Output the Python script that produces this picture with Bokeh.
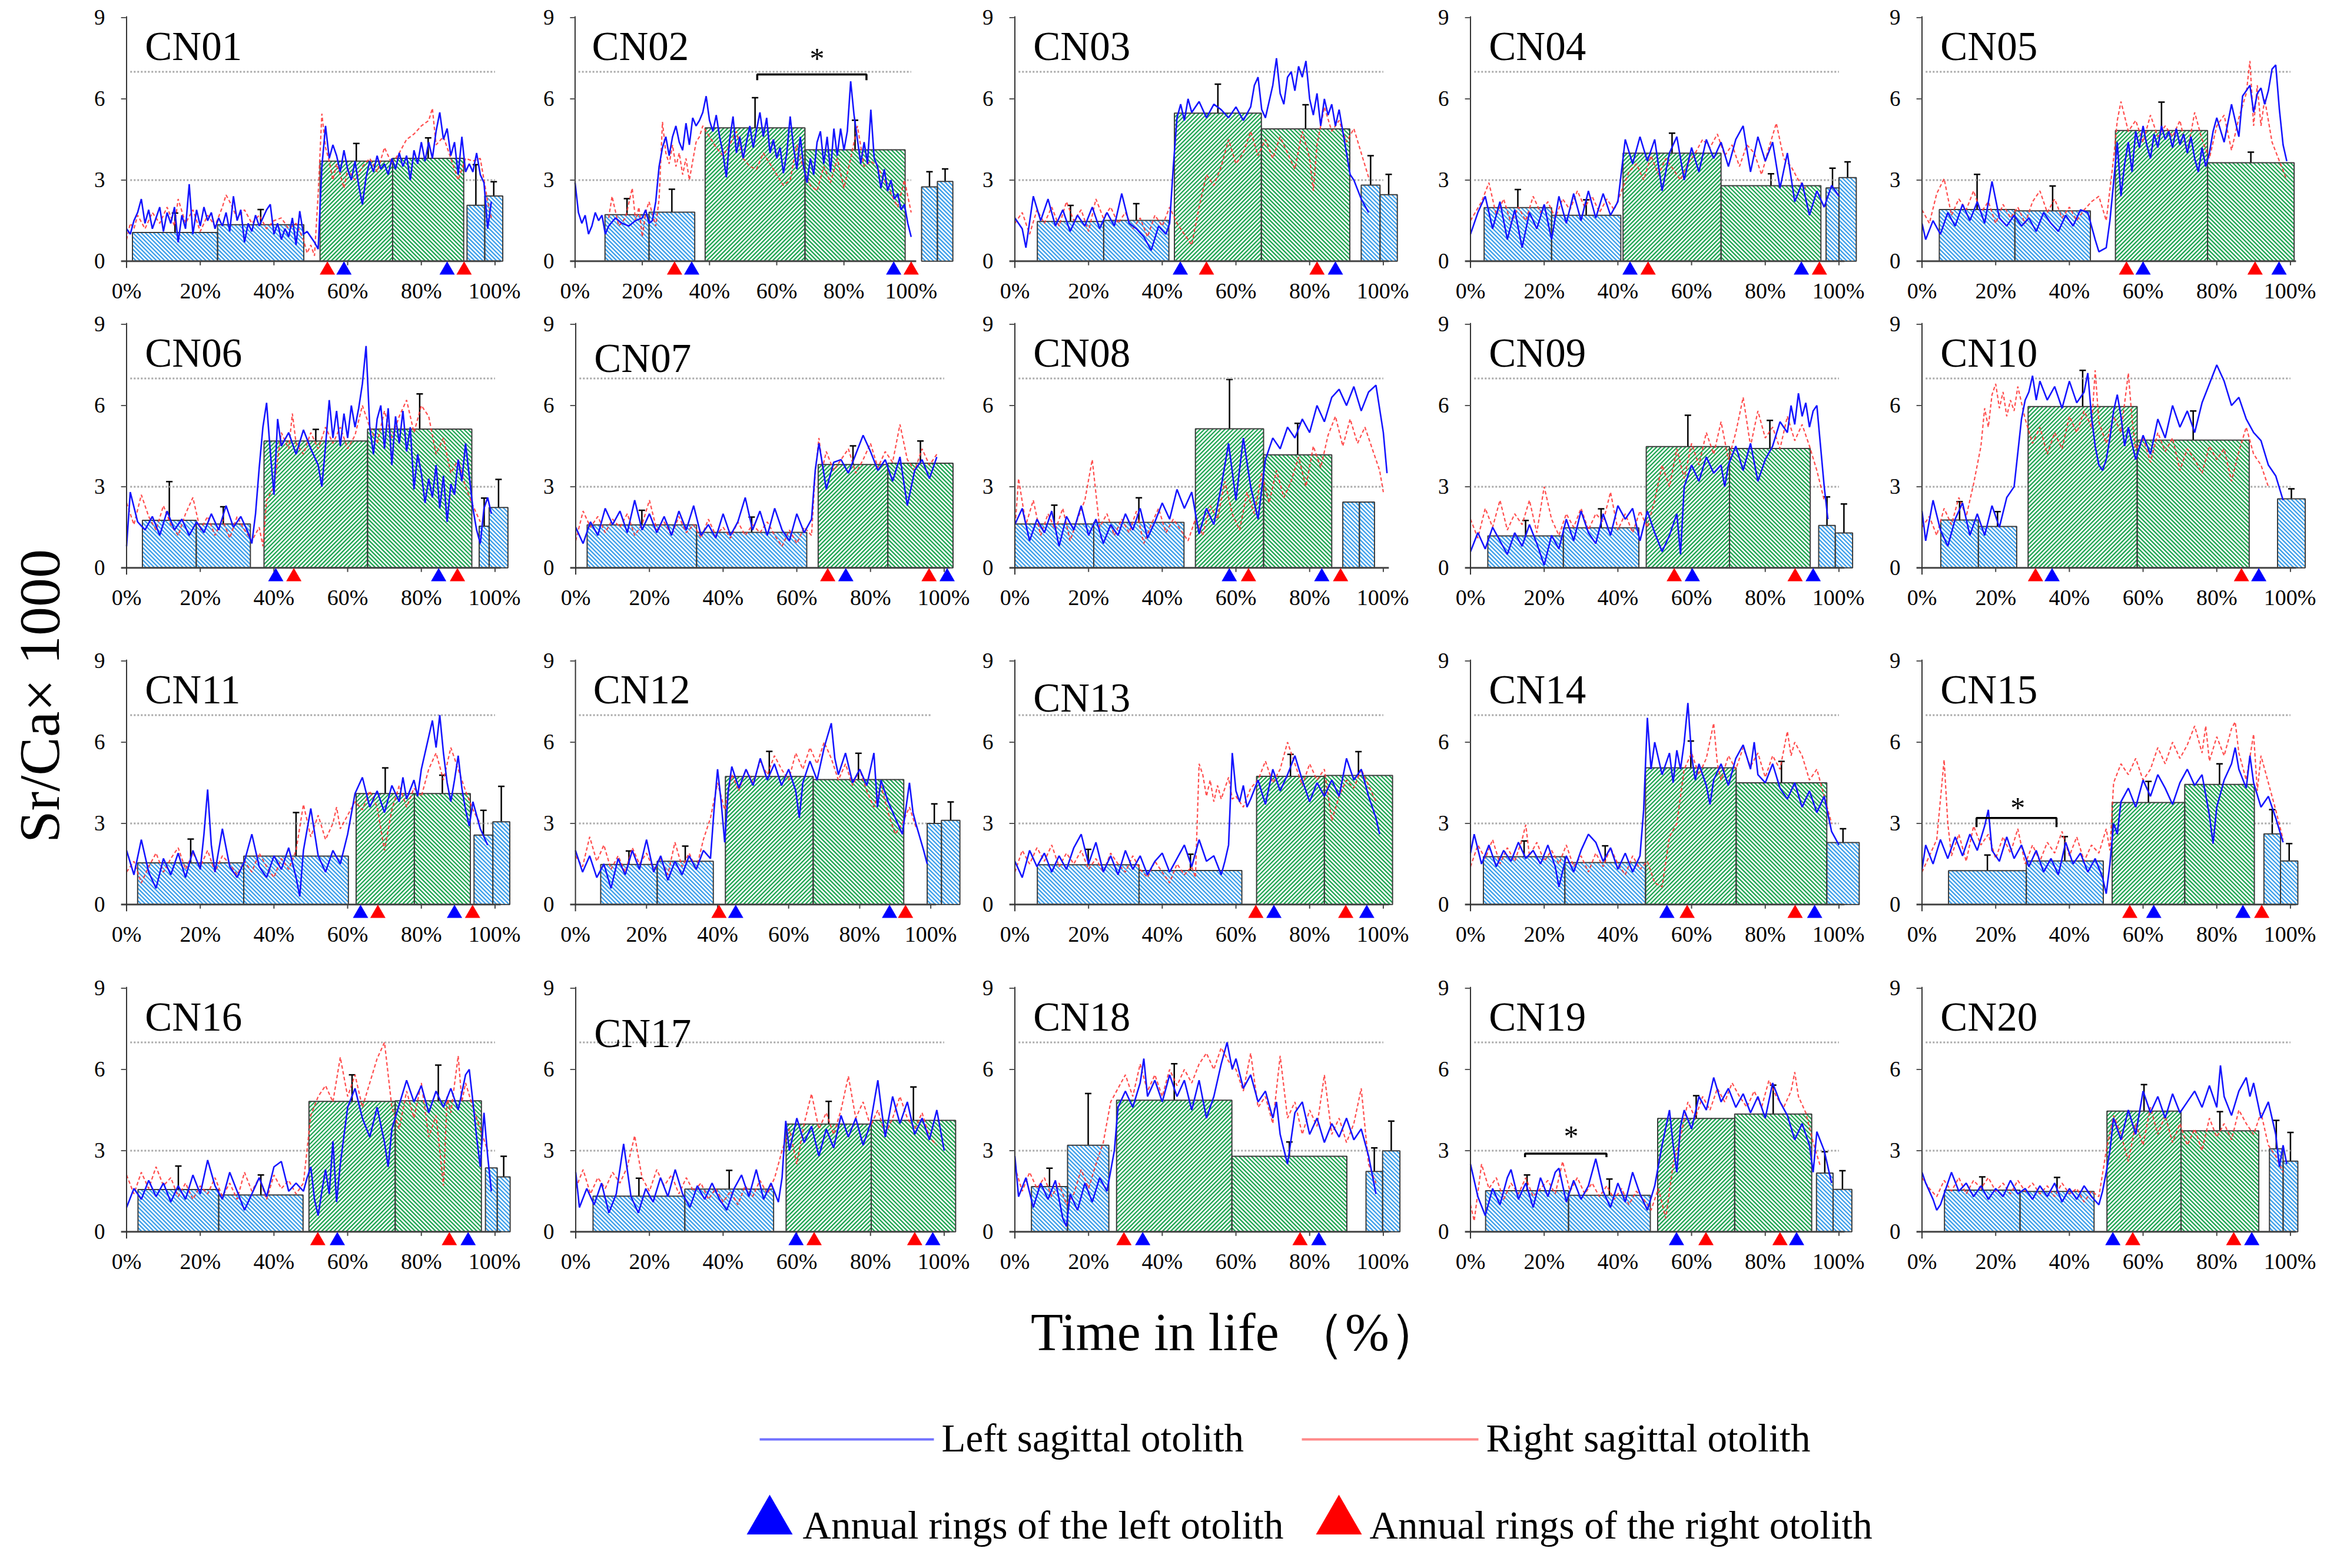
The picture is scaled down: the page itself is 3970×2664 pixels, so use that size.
import numpy as np
from bokeh.plotting import figure
from bokeh.models import ColumnDataSource, FixedTicker, Whisker, TeeHead, Spacer
from bokeh.layouts import row, column
from bokeh.core.properties import value
from bokeh.embed import file_html
from bokeh.resources import INLINE

FONT = "Liberation Serif"
PANELS = [f"CN{i:02d}" for i in range(1, 21)]
X_TICKS = [0, 20, 40, 60, 80, 100]
Y_TICKS = [0, 3, 6, 9]
REF_LEVELS = [3, 7]
REF_SPAN = [1, 100]

# bars: (left %, right %, mean, mean+SD, kind)   kind "b" = blue, "g" = green
CN01_BARS = [(1.6,24.7,1.06,1.78,"b"),(24.7,48.1,1.35,1.91,"b"),(52.5,72.2,3.70,4.35,"g"),(72.2,91.5,3.80,4.56,"g"),(92.4,97.2,2.07,3.57,"b"),(97.2,102.1,2.41,2.94,"b")]
CN02_BARS = [(8.9,22.0,1.72,2.31,"b"),(22.0,35.6,1.81,2.66,"b"),(38.7,68.4,4.93,6.04,"g"),(68.4,98.2,4.12,5.21,"g"),(103.1,107.8,2.75,3.31,"b"),(107.8,112.4,2.95,3.41,"b")]
CN03_BARS = [(6.1,24.1,1.47,2.06,"b"),(24.1,41.8,1.51,2.13,"b"),(43.3,66.9,5.47,6.54,"g"),(66.9,90.9,4.89,5.78,"g"),(94.0,99.1,2.81,3.90,"b"),(99.1,103.8,2.46,3.21,"b")]
CN04_BARS = [(3.7,22.0,1.98,2.65,"b"),(22.0,40.8,1.70,2.27,"b"),(41.4,68.0,3.99,4.73,"g"),(68.0,95.1,2.79,3.23,"g"),(96.5,100.0,2.71,3.44,"b"),(100.0,104.7,3.09,3.67,"b")]
CN05_BARS = [(4.7,25.2,1.91,3.21,"b"),(25.2,45.7,1.86,2.78,"b"),(52.5,77.5,4.83,5.88,"g"),(77.5,101.0,3.64,4.03,"g")]
CN06_BARS = [(4.3,18.9,1.76,3.19,"b"),(18.9,33.6,1.62,2.26,"b"),(37.3,65.4,4.69,5.12,"g"),(65.4,93.7,5.13,6.43,"g"),(95.7,98.4,1.54,2.58,"b"),(98.4,103.5,2.23,3.27,"b")]
CN07_BARS = [(3.1,32.8,1.59,2.13,"b"),(32.8,62.7,1.31,1.88,"b"),(65.8,84.7,3.82,4.51,"g"),(84.7,102.4,3.87,4.69,"g")]
CN08_BARS = [(0.0,21.4,1.62,2.32,"b"),(21.4,45.9,1.68,2.59,"b"),(49.0,67.5,5.14,6.96,"g"),(67.5,86.0,4.18,5.34,"g"),(89.0,93.5,2.43,2.43,"b"),(93.5,97.6,2.43,2.43,"b")]
CN09_BARS = [(4.7,25.2,1.18,1.75,"b"),(25.2,45.7,1.48,2.18,"b"),(47.7,70.3,4.48,5.64,"g"),(70.3,92.2,4.41,5.45,"g"),(94.5,99.0,1.57,2.62,"b"),(99.0,103.7,1.29,2.36,"b")]
CN10_BARS = [(5.1,15.3,1.77,2.45,"b"),(15.3,25.7,1.53,2.08,"b"),(28.8,58.4,5.96,7.30,"g"),(58.4,88.8,4.72,5.80,"g"),(96.5,104.0,2.55,2.92,"b")]
CN11_BARS = [(3.0,31.8,1.54,2.42,"b"),(31.8,60.2,1.79,3.40,"b"),(62.3,78.1,4.10,5.05,"g"),(78.1,93.3,4.10,4.78,"g"),(94.3,99.4,2.57,3.48,"b"),(99.4,104.0,3.06,4.37,"b")]
CN12_BARS = [(7.1,23.0,1.48,1.98,"b"),(23.0,38.8,1.60,2.16,"b"),(42.2,66.9,4.73,5.66,"g"),(66.9,92.4,4.62,5.59,"g"),(99.0,103.0,3.00,3.72,"b"),(103.0,108.2,3.11,3.79,"b")]
CN13_BARS = [(6.1,33.7,1.47,2.04,"b"),(33.7,61.6,1.26,1.86,"b"),(65.6,84.0,4.74,5.55,"g"),(84.0,102.5,4.77,5.65,"g")]
CN14_BARS = [(3.5,25.6,1.77,2.35,"b"),(25.6,47.5,1.55,2.17,"b"),(47.5,72.1,5.05,6.04,"g"),(72.1,96.7,4.50,5.29,"g"),(96.7,105.5,2.29,2.80,"b")]
CN15_BARS = [(7.2,28.3,1.25,1.83,"b"),(28.3,49.2,1.61,2.51,"b"),(51.6,71.3,3.77,4.55,"g"),(71.3,90.2,4.44,5.20,"g"),(92.8,97.3,2.61,3.51,"b"),(97.3,102.0,1.61,2.25,"b")]
CN16_BARS = [(3.1,25.0,1.56,2.43,"b"),(25.0,47.9,1.36,2.10,"b"),(49.5,72.9,4.82,5.80,"g"),(72.9,96.3,4.84,6.16,"g"),(97.4,100.6,2.36,2.36,"b"),(100.6,104.1,2.03,2.79,"b")]
CN17_BARS = [(4.7,29.6,1.32,1.98,"b"),(29.6,53.7,1.58,2.27,"b"),(57.1,80.2,3.98,4.82,"g"),(80.2,103.1,4.12,5.35,"g")]
CN18_BARS = [(4.5,14.3,1.67,2.35,"b"),(14.3,25.5,3.20,5.11,"b"),(27.6,58.9,4.86,6.21,"g"),(58.9,90.1,2.79,3.32,"g"),(95.3,99.8,2.23,3.10,"b"),(99.8,104.5,2.99,4.09,"b")]
CN19_BARS = [(4.1,26.6,1.52,2.10,"b"),(26.6,48.8,1.35,1.95,"b"),(50.8,71.7,4.19,5.03,"g"),(71.7,92.6,4.35,5.42,"g"),(93.9,98.4,2.17,2.96,"b"),(98.4,103.5,1.57,2.26,"b")]
CN20_BARS = [(6.1,26.6,1.54,2.03,"b"),(26.6,46.7,1.49,2.01,"b"),(50.2,70.3,4.46,5.44,"g"),(70.3,91.4,3.73,4.44,"g"),(94.3,98.0,3.07,4.12,"b"),(98.0,102.0,2.61,3.67,"b")]

# annual rings (% of life): left otolith (blue), right otolith (red)
CN01_RING_L = [59.0, 87.0]; CN01_RING_R = [54.5, 91.6]
CN02_RING_L = [34.7, 94.8]; CN02_RING_R = [29.6, 100.0]
CN03_RING_L = [44.9, 87.0]; CN03_RING_R = [52.0, 82.0]
CN04_RING_L = [43.3, 89.8]; CN04_RING_R = [48.2, 94.7]
CN05_RING_L = [60.0, 96.9]; CN05_RING_R = [55.5, 90.4]
CN06_RING_L = [40.5, 84.7]; CN06_RING_R = [45.4, 89.8]
CN07_RING_L = [73.3, 100.8]; CN07_RING_R = [68.4, 95.9]
CN08_RING_L = [58.2, 83.3]; CN08_RING_R = [63.4, 88.4]
CN09_RING_L = [60.2, 93.0]; CN09_RING_R = [55.3, 88.1]
CN10_RING_L = [35.3, 91.4]; CN10_RING_R = [30.8, 86.7]
CN11_RING_L = [63.5, 89.0]; CN11_RING_R = [68.2, 93.9]
CN12_RING_L = [45.1, 88.4]; CN12_RING_R = [40.4, 92.9]
CN13_RING_L = [70.3, 95.5]; CN13_RING_R = [65.4, 89.8]
CN14_RING_L = [53.3, 93.4]; CN14_RING_R = [58.8, 88.1]
CN15_RING_L = [62.9, 87.1]; CN15_RING_R = [56.4, 92.2]
CN16_RING_L = [57.2, 92.7]; CN16_RING_R = [51.9, 87.6]
CN17_RING_L = [59.8, 96.9]; CN17_RING_R = [64.7, 92.0]
CN18_RING_L = [34.7, 82.5]; CN18_RING_R = [29.6, 77.4]
CN19_RING_L = [55.9, 88.5]; CN19_RING_R = [63.9, 84.0]
CN20_RING_L = [51.8, 89.5]; CN20_RING_R = [57.2, 84.6]

# Sr/Ca profiles (x = % of life, y = Sr/Ca x 1000): left (blue) and right (red) otoliths
CN01_LEFT = [(0,1.2),(1,1.0),(2,1.5),(3,1.8),(4,2.3),(5,1.4),(6,1.9),(7,1.2),(8,1.6),(9,2.0),(10,1.1),(11,1.8),(12,1.4),(13,2.0),(14,0.7),(15,1.7),(16,1.2),(17,2.85),(18,1.0),(19,1.9),(20,1.3),(21,2.0),(22,1.5),(23,1.8),(24,1.2),(25,1.6),(26,1.3),(27,1.8),(28,1.1),(29,2.4),(30,1.5),(31,1.9),(32,0.7),(33,1.4),(34,1.1),(35,1.7),(36,1.3),(38,1.9),(39,2.1),(40,1.0),(41,1.4),(42,0.8),(43,1.2),(44,0.9),(45,1.6),(46,0.6),(47,1.85),(48,1.0),(49,1.1),(50,0.9),(51,0.7),(52,0.45),(53,3.5),(54,5.0),(55,3.8),(56,4.3),(57,3.9),(58,3.3),(59,4.1),(60,3.4),(61,3.0),(62,3.7),(63,2.8),(64,2.1),(65,3.1),(66,3.7),(67,3.3),(68,3.9),(69,3.4),(70,3.6),(71,3.2),(72,3.8),(73,3.4),(74,4.0),(75,3.5),(76,3.9),(77,3.0),(78,4.1),(79,3.6),(80,4.4),(81,3.7),(82,4.4),(83,3.8),(84,4.8),(85,5.5),(86,4.5),(87,4.9),(88,3.9),(89,4.4),(90,3.2),(91,4.6),(92,3.3),(93,3.6),(94,3.3),(95,4.0),(96,3.2),(97,2.9),(98,1.2),(99,2.2)]
CN01_RIGHT = [(0,0.8),(1,1.4),(2,1.2),(3,1.7),(5,1.2),(7,1.8),(9,1.4),(11,2.0),(13,1.3),(14,2.3),(16,1.4),(18,1.9),(20,1.1),(22,1.7),(24,1.3),(26,2.0),(27,2.45),(28,2.2),(30,1.6),(32,1.9),(34,1.4),(36,1.7),(38,1.2),(40,1.5),(42,1.6),(44,1.2),(46,1.4),(48,0.8),(49,0.3),(50,0.6),(51,0.2),(52,2.5),(53,5.45),(54,4.2),(55,3.7),(56,3.0),(57,3.6),(58,3.2),(59,2.7),(60,3.4),(62,3.0),(64,3.5),(66,3.8),(68,3.3),(70,4.2),(72,3.6),(74,4.0),(76,4.5),(78,4.7),(80,5.0),(82,5.2),(83,5.65),(84,4.3),(86,4.6),(88,3.8),(90,3.0),(92,3.8),(94,3.7),(96,3.8),(97,3.0),(98,2.2),(99,1.6)]
CN02_LEFT = [(0,2.9),(1,1.8),(2,1.4),(3,1.7),(4,1.0),(5,1.3),(6,1.8),(7,1.5),(8,1.7),(9,1.0),(10,1.3),(12,1.6),(14,1.4),(16,1.3),(18,1.5),(20,1.6),(21,1.9),(22,1.4),(23,1.5),(24,2.2),(25,3.5),(26,4.2),(27,4.6),(28,3.9),(29,4.6),(30,5.0),(31,4.4),(32,4.1),(33,5.1),(34,4.3),(35,5.3),(36,5.0),(37,5.2),(38,5.5),(39,6.1),(40,5.2),(41,4.8),(42,5.4),(43,4.6),(44,4.0),(45,3.1),(46,4.5),(47,5.35),(48,4.0),(49,4.6),(50,3.8),(51,4.4),(52,5.0),(53,4.2),(55,5.5),(56,4.6),(57,5.3),(58,4.0),(59,4.5),(60,3.8),(61,4.2),(62,3.25),(63,4.0),(64,5.35),(65,4.2),(66,3.4),(67,4.6),(68,3.5),(69,2.9),(70,3.8),(71,3.2),(72,4.4),(73,4.8),(74,3.6),(75,4.6),(76,3.3),(77,4.9),(78,3.9),(79,4.9),(80,4.1),(81,4.8),(82,6.65),(83,5.4),(84,4.5),(85,3.6),(86,4.4),(87,3.6),(88,5.6),(89,3.8),(90,3.5),(91,2.7),(92,3.4),(93,2.6),(94,3.0),(95,2.3),(96,2.5),(97,1.9),(98,2.1),(99,1.4),(100,0.9)]
CN02_RIGHT = [(10,1.6),(11,2.4),(13,1.3),(15,1.6),(17,2.7),(18,1.5),(19,2.0),(20,0.9),(21,1.8),(22,2.2),(24,1.3),(25,2.3),(26,5.15),(27,4.0),(28,3.6),(29,4.3),(30,3.5),(31,4.0),(32,3.2),(33,3.8),(34,3.0),(35,3.7),(36,4.4),(37,4.6),(38,5.0),(40,4.6),(42,4.2),(44,3.9),(46,4.3),(48,4.8),(50,3.8),(52,3.5),(54,3.4),(56,4.0),(58,3.6),(60,3.2),(62,2.8),(64,3.0),(66,4.3),(68,3.4),(70,2.8),(72,2.6),(74,3.5),(76,2.9),(78,3.8),(80,2.7),(82,3.8),(84,5.0),(86,3.5),(88,3.7),(90,3.5),(92,3.0),(94,2.5),(96,2.0),(98,3.0),(100,1.8)]
CN03_LEFT = [(0,1.6),(2,1.2),(3,0.5),(5,2.4),(7,1.5),(9,2.3),(11,1.3),(13,1.9),(15,1.1),(17,1.7),(19,1.3),(21,2.0),(23,1.2),(25,1.8),(27,1.3),(29,2.5),(31,1.4),(33,1.2),(35,0.9),(37,0.4),(39,1.3),(41,1.0),(42,1.4),(43,3.5),(44,5.3),(45,5.8),(46,5.2),(47,6.0),(48,5.5),(50,5.9),(52,5.3),(54,5.8),(56,5.6),(58,5.3),(60,5.7),(62,5.2),(64,5.7),(65,6.5),(66,6.8),(67,5.6),(68,5.3),(70,6.5),(71,7.5),(72,6.2),(73,5.8),(74,6.8),(75,7.0),(76,6.3),(77,7.2),(78,6.8),(79,7.4),(80,6.0),(81,5.4),(82,6.2),(83,5.0),(84,6.0),(85,5.4),(86,5.8),(87,5.0),(88,5.6),(89,4.8),(90,4.0),(91,3.2),(92,3.0),(94,2.3),(96,1.8)]
CN03_RIGHT = [(0,1.4),(2,1.8),(4,1.0),(6,1.9),(8,1.4),(10,2.0),(12,1.3),(14,2.2),(16,1.5),(18,1.9),(20,1.1),(22,2.3),(24,1.6),(26,2.0),(28,1.4),(30,1.8),(32,1.2),(34,1.6),(36,0.9),(38,1.7),(40,1.3),(42,2.0),(44,1.4),(46,1.0),(48,0.6),(50,2.0),(52,3.2),(54,2.8),(56,3.5),(58,4.5),(60,3.6),(62,4.0),(64,4.8),(66,3.9),(68,4.5),(70,3.8),(72,4.6),(74,4.0),(76,3.4),(78,4.8),(80,3.8),(81,2.6),(82,4.3),(84,5.7),(86,4.8),(88,5.2),(90,4.4),(92,4.9),(94,4.0),(96,3.1)]
CN04_LEFT = [(0,1.0),(2,1.8),(4,2.4),(6,1.2),(8,2.2),(10,0.8),(12,1.9),(14,0.5),(16,1.8),(18,1.2),(20,2.1),(22,0.8),(24,2.4),(26,1.4),(28,2.5),(30,1.5),(32,2.6),(34,1.6),(36,2.5),(38,1.7),(40,2.2),(42,4.5),(44,3.6),(46,4.6),(48,3.7),(50,4.5),(52,2.6),(54,4.0),(56,4.6),(58,3.0),(60,4.2),(62,3.3),(64,4.5),(66,3.8),(68,4.4),(70,3.5),(72,4.5),(74,5.0),(76,3.3),(78,4.6),(80,3.7),(82,4.4),(84,2.7),(86,4.0),(88,2.2),(90,2.9),(92,1.7),(94,2.6),(96,2.0),(98,2.8),(100,2.4)]
CN04_RIGHT = [(0,1.5),(3,2.2),(5,2.9),(7,1.7),(9,2.3),(11,1.4),(13,2.0),(15,1.5),(17,2.4),(19,1.8),(21,2.2),(23,1.6),(25,2.3),(27,1.9),(29,2.6),(31,2.0),(33,2.4),(35,1.8),(37,2.3),(39,1.9),(41,2.6),(43,3.3),(45,3.6),(47,3.0),(49,3.9),(51,3.2),(53,3.8),(55,3.4),(57,3.0),(59,3.6),(61,4.0),(63,4.5),(65,4.2),(67,4.7),(69,3.9),(71,4.3),(73,3.5),(75,4.3),(77,4.0),(79,3.2),(81,4.2),(83,5.1),(85,3.8),(87,3.5),(89,3.0),(91,2.7)]
CN05_LEFT = [(0,1.4),(1,0.8),(3,1.5),(5,1.0),(7,1.8),(9,1.3),(11,2.1),(13,1.5),(15,2.2),(17,1.4),(19,2.95),(21,1.6),(23,1.3),(25,1.7),(27,1.3),(29,1.6),(31,1.1),(33,1.8),(35,1.4),(37,1.1),(39,1.7),(41,1.3),(43,1.9),(45,1.8),(47,0.8),(48,0.35),(50,0.5),(51,1.5),(52,2.9),(53,4.4),(54,2.4),(55,3.6),(56,4.4),(57,3.3),(58,4.8),(59,4.2),(60,5.0),(61,4.3),(62,3.8),(63,4.7),(64,4.2),(65,5.0),(66,4.5),(67,4.8),(68,4.2),(69,4.9),(70,4.3),(71,4.7),(72,4.0),(73,4.6),(74,3.8),(75,3.3),(76,4.2),(77,3.5),(78,4.0),(79,4.8),(80,5.3),(82,4.4),(84,5.8),(86,4.6),(87,6.1),(89,6.5),(90,5.5),(91,6.2),(92,6.4),(93,5.8),(94,6.3),(95,7.1),(96,7.25),(97,5.6),(98,4.3),(99,3.7)]
CN05_RIGHT = [(0,1.9),(2,1.4),(4,2.5),(6,3.05),(8,1.7),(10,2.3),(12,1.9),(14,2.6),(16,1.8),(18,2.2),(20,1.4),(22,2.1),(24,1.6),(26,2.0),(28,1.4),(30,2.2),(32,2.6),(34,1.8),(36,2.3),(38,1.6),(40,2.0),(42,1.5),(44,1.9),(46,2.2),(48,2.4),(50,1.5),(52,3.8),(53,5.2),(54,5.9),(56,4.8),(58,5.2),(60,4.4),(62,5.4),(64,4.6),(66,5.0),(68,4.6),(70,5.2),(72,4.0),(74,5.5),(76,4.5),(78,3.8),(80,5.0),(82,5.4),(84,4.1),(86,5.3),(88,6.2),(89,7.4),(90,5.0),(91,6.5),(92,5.0),(93,6.0),(95,4.4),(97,3.7),(99,3.0)]
CN06_LEFT = [(0,0.8),(1,2.8),(3,1.7),(5,1.4),(7,1.9),(9,1.2),(11,2.1),(13,1.4),(15,1.8),(17,1.2),(19,1.7),(21,1.3),(23,2.0),(25,1.4),(27,2.3),(29,1.5),(31,1.9),(33,1.3),(34,0.9),(35,2.0),(36,3.7),(37,5.2),(38,6.1),(39,4.3),(40,2.7),(41,5.5),(42,4.5),(44,5.0),(46,4.2),(48,5.1),(50,4.4),(52,3.8),(53,3.0),(54,4.5),(55,6.2),(56,4.8),(57,5.8),(58,4.5),(59,5.7),(60,4.8),(61,6.0),(62,5.2),(63,5.9),(64,6.8),(65,8.2),(66,5.2),(67,4.2),(68,5.5),(69,6.0),(70,4.4),(71,5.9),(72,3.8),(73,5.6),(74,4.6),(75,5.8),(76,4.3),(77,5.2),(78,2.9),(79,4.2),(80,3.5),(81,2.4),(82,3.3),(83,2.6),(84,3.8),(85,2.2),(86,3.4),(87,1.7),(88,3.1),(89,2.7),(90,4.0),(91,3.2),(92,4.6),(93,3.4),(94,2.2),(95,1.4),(96,0.9),(97,2.2),(98,2.6),(99,2.0)]
CN06_RIGHT = [(0,2.4),(2,1.6),(4,2.7),(6,1.9),(8,1.4),(10,2.3),(12,1.6),(14,1.2),(16,2.0),(18,2.6),(20,1.4),(22,1.9),(24,1.2),(26,1.8),(28,1.1),(30,1.9),(32,1.4),(34,1.0),(36,1.5),(37,0.8),(38,2.5),(40,3.0),(42,5.0),(44,4.4),(45,5.7),(46,4.6),(48,4.2),(50,5.0),(52,4.4),(54,5.2),(56,4.6),(58,5.2),(60,4.4),(62,4.9),(64,6.0),(66,5.2),(68,4.6),(70,5.8),(72,4.8),(74,5.6),(76,6.2),(78,5.0),(80,6.0),(82,5.6),(84,4.2),(86,4.8),(88,3.5),(90,4.0),(92,3.0),(94,2.3),(96,1.7)]
CN07_LEFT = [(0,1.5),(2,0.9),(4,1.7),(6,1.2),(8,2.2),(10,1.6),(12,2.1),(14,1.3),(16,2.5),(18,1.4),(20,2.0),(22,1.3),(24,1.9),(26,1.2),(28,2.1),(30,1.4),(32,2.3),(34,1.2),(36,1.6),(38,1.1),(40,2.0),(42,1.2),(44,1.7),(46,2.6),(48,1.4),(50,2.1),(52,1.2),(54,2.2),(56,1.4),(58,1.0),(60,2.0),(62,1.3),(64,1.8),(65,3.6),(66,4.6),(67,3.8),(68,2.9),(70,3.9),(72,4.0),(74,3.5),(76,4.2),(78,4.9),(80,4.3),(82,3.6),(84,4.0),(86,3.2),(88,4.1),(90,2.3),(92,3.6),(94,4.0),(96,3.3),(98,4.1)]
CN07_RIGHT = [(0,1.0),(2,2.1),(4,1.5),(6,1.9),(8,1.3),(10,1.8),(12,1.5),(14,2.0),(16,1.2),(18,1.6),(20,2.5),(22,1.4),(24,1.7),(26,1.2),(28,1.9),(30,1.3),(32,1.6),(34,1.1),(36,1.8),(38,1.2),(40,1.5),(42,1.1),(44,1.7),(46,1.2),(48,1.6),(50,1.3),(52,1.7),(54,1.2),(56,0.8),(58,1.4),(60,0.9),(62,1.5),(64,1.2),(65,3.5),(66,4.8),(67,3.7),(68,4.3),(70,3.6),(72,4.0),(74,4.4),(76,3.5),(78,4.0),(80,4.6),(82,3.7),(84,4.3),(86,3.9),(88,5.3),(90,4.0),(92,3.6),(94,4.4),(96,3.8),(98,4.2)]
CN08_LEFT = [(0,1.6),(2,2.2),(4,1.0),(6,1.8),(8,1.3),(10,2.1),(12,0.8),(14,1.9),(16,1.4),(18,2.3),(20,1.2),(22,1.8),(24,0.9),(26,1.6),(28,1.2),(30,2.0),(32,1.4),(34,2.2),(36,1.1),(38,1.7),(40,2.4),(42,1.8),(44,2.9),(46,2.2),(48,2.8),(50,1.25),(52,2.2),(54,1.6),(56,3.0),(58,4.6),(60,2.5),(62,4.8),(64,3.0),(66,1.8),(68,4.0),(70,4.8),(72,4.4),(74,5.2),(76,4.8),(78,5.5),(80,5.0),(82,6.0),(84,5.4),(86,6.3),(88,6.6),(90,6.0),(92,6.7),(94,5.8),(96,6.5),(98,6.75),(100,5.0),(101,3.5)]
CN08_RIGHT = [(0,1.4),(1,3.3),(3,1.6),(5,2.5),(7,1.2),(9,2.0),(11,1.4),(13,2.2),(15,1.0),(17,1.8),(19,2.5),(21,4.0),(23,1.5),(25,2.0),(27,1.2),(29,1.8),(31,1.3),(33,2.1),(35,0.9),(37,1.6),(39,2.2),(41,1.3),(43,1.8),(45,1.4),(47,1.0),(49,1.8),(51,1.2),(53,2.3),(55,1.8),(57,3.2),(59,2.0),(61,1.4),(63,2.8),(65,2.0),(67,3.5),(69,2.4),(71,3.6),(73,2.6),(75,3.2),(77,4.1),(79,3.0),(81,4.5),(83,3.7),(85,4.9),(87,5.6),(89,4.5),(91,5.5),(93,4.6),(95,5.2),(97,4.4),(99,3.6),(100,2.8)]
CN09_LEFT = [(0,0.6),(2,1.3),(4,0.7),(6,1.5),(8,1.0),(10,0.5),(12,1.3),(14,0.8),(16,1.6),(18,0.9),(20,0.1),(22,1.2),(24,0.7),(26,1.8),(28,1.0),(30,2.1),(32,1.3),(34,0.9),(36,2.0),(38,1.2),(40,2.3),(42,1.8),(44,2.2),(46,1.0),(48,2.1),(50,1.3),(52,0.6),(54,1.2),(56,2.0),(57,0.5),(58,3.0),(60,3.8),(62,3.2),(64,4.1),(66,3.5),(68,3.8),(69,3.0),(70,3.8),(72,4.5),(74,3.6),(76,4.6),(78,3.2),(80,4.0),(82,4.5),(84,5.4),(86,5.0),(87,6.0),(88,5.3),(89,6.45),(90,5.6),(91,6.1),(92,5.2),(93,5.8),(94,6.0),(95,4.5),(96,3.0),(97,1.8)]
CN09_RIGHT = [(0,1.8),(2,1.1),(4,2.2),(6,1.5),(8,2.5),(10,1.4),(12,2.0),(14,1.6),(16,2.5),(18,1.3),(20,3.0),(22,1.8),(24,1.2),(26,2.0),(28,1.5),(30,2.2),(32,1.4),(34,2.0),(36,1.7),(38,2.8),(40,1.4),(42,2.0),(44,1.3),(46,2.1),(48,1.5),(50,2.5),(52,3.8),(54,3.0),(56,4.4),(58,3.3),(60,4.6),(62,3.8),(64,5.0),(66,4.2),(68,5.4),(70,4.0),(72,5.0),(74,6.3),(76,4.5),(78,5.8),(80,4.8),(82,5.2),(84,4.4),(86,5.6),(88,4.7),(90,5.3),(92,4.5),(94,3.6),(96,2.5)]
CN10_LEFT = [(0,2.1),(1,1.0),(3,2.5),(5,1.4),(7,0.8),(9,1.8),(11,2.4),(13,1.2),(15,2.0),(17,1.2),(19,2.3),(21,1.5),(23,2.6),(25,3.0),(27,5.5),(28,6.2),(29,6.5),(30,7.1),(31,6.2),(32,6.9),(34,6.2),(36,6.7),(38,5.9),(40,6.9),(42,6.1),(44,6.5),(45,7.2),(46,5.6),(47,4.5),(48,3.8),(49,3.6),(50,4.0),(51,4.8),(52,5.8),(53,6.4),(54,5.6),(55,4.5),(56,5.2),(58,4.0),(60,4.9),(62,4.2),(64,5.5),(66,4.8),(68,6.0),(70,5.2),(72,5.8),(74,5.0),(76,6.1),(78,6.8),(80,7.5),(82,6.9),(84,6.0),(86,6.3),(88,5.5),(90,5.0),(92,4.7),(94,3.8),(96,3.4),(98,2.5)]
CN10_RIGHT = [(0,1.5),(2,1.9),(4,1.2),(6,2.2),(8,1.6),(10,2.6),(12,1.9),(14,3.1),(16,4.5),(17,5.9),(18,5.2),(19,6.4),(20,6.8),(21,5.9),(22,6.5),(23,5.6),(24,6.2),(25,5.8),(26,6.7),(28,5.5),(30,4.6),(32,5.2),(34,4.2),(36,5.0),(38,4.4),(40,5.6),(42,5.0),(44,5.8),(46,5.2),(47,7.3),(48,5.4),(50,4.6),(52,5.6),(54,5.0),(56,7.2),(57,5.5),(58,4.4),(60,4.8),(62,3.9),(64,5.0),(66,4.3),(68,4.8),(70,3.6),(72,4.4),(74,4.0),(76,3.5),(78,4.5),(80,4.0),(82,4.4),(84,3.2),(86,4.3),(88,5.2),(90,4.2),(92,3.8),(94,3.0)]
CN11_LEFT = [(0,2.0),(2,1.1),(4,2.4),(6,1.2),(8,0.6),(10,1.7),(12,1.1),(14,1.9),(16,1.0),(18,2.0),(20,1.3),(21,2.6),(22,4.25),(23,2.2),(24,1.2),(26,2.8),(28,1.4),(30,1.0),(32,1.6),(34,2.6),(36,1.4),(38,1.0),(40,1.8),(42,1.3),(44,2.1),(46,1.0),(47,0.3),(48,2.0),(50,3.55),(52,1.8),(54,1.2),(56,2.0),(58,1.5),(60,2.6),(62,4.1),(64,4.7),(66,3.6),(68,4.2),(70,3.4),(72,4.4),(74,3.8),(75,4.7),(76,3.9),(78,4.6),(79,4.0),(80,5.0),(82,6.2),(83,6.8),(84,5.8),(85,7.0),(86,5.6),(87,4.5),(88,3.8),(89,4.6),(90,5.5),(91,4.3),(92,3.5),(93,2.9),(94,3.8),(96,2.8),(98,2.2)]
CN11_RIGHT = [(0,1.2),(2,1.6),(4,0.8),(6,1.4),(8,1.9),(10,1.2),(12,1.7),(14,2.1),(16,1.3),(18,1.9),(20,1.4),(22,2.0),(24,1.2),(26,1.8),(28,1.5),(30,1.1),(32,1.6),(34,1.2),(36,1.9),(38,1.4),(40,1.0),(42,1.7),(44,1.3),(46,2.0),(48,3.7),(50,2.5),(52,3.3),(54,2.4),(56,3.0),(57,3.6),(58,2.8),(60,3.3),(62,3.8),(64,3.5),(66,4.2),(68,3.6),(70,2.0),(72,3.5),(74,4.4),(76,3.6),(78,4.3),(80,4.0),(82,5.0),(84,5.6),(86,4.6),(88,5.8),(90,5.0),(92,4.2),(94,3.5),(96,3.0)]
CN12_LEFT = [(0,2.0),(2,1.2),(4,1.8),(6,1.0),(8,1.5),(10,0.6),(12,1.7),(14,1.1),(16,2.0),(18,1.3),(20,2.4),(22,1.2),(24,1.8),(26,0.9),(28,1.6),(30,1.1),(32,1.8),(34,1.3),(36,2.0),(38,1.7),(39,3.5),(40,5.0),(41,3.8),(42,2.3),(43,4.2),(44,5.1),(46,4.3),(48,5.0),(50,4.4),(52,5.4),(54,4.6),(56,5.2),(58,4.4),(60,5.0),(62,4.2),(63,3.2),(64,4.5),(66,5.3),(68,4.6),(70,5.8),(72,6.7),(73,5.4),(74,4.8),(76,5.6),(78,4.5),(80,5.0),(82,4.4),(84,5.6),(85,3.6),(86,4.6),(88,3.8),(90,3.2),(92,2.6),(94,4.5),(95,3.4),(96,2.9),(98,2.0),(99,1.5)]
CN12_RIGHT = [(0,1.8),(2,1.4),(4,2.5),(6,1.6),(8,2.2),(10,1.3),(12,1.8),(14,1.2),(16,2.1),(18,1.5),(20,1.9),(22,1.3),(24,1.7),(26,1.1),(28,2.3),(30,1.4),(32,1.9),(34,1.3),(36,2.4),(38,3.2),(40,4.5),(42,3.5),(44,4.8),(46,4.2),(48,5.0),(50,4.5),(52,5.3),(54,4.8),(56,5.5),(58,5.0),(60,4.6),(62,5.6),(64,5.0),(66,5.8),(68,5.2),(70,6.0),(72,5.4),(74,4.6),(76,5.2),(78,4.4),(80,5.0),(82,4.2),(84,3.6),(86,4.4),(88,3.4),(90,2.6),(92,3.0),(94,3.6),(96,2.8)]
CN13_LEFT = [(0,1.6),(2,1.0),(4,2.0),(6,1.4),(8,1.9),(10,1.2),(12,1.8),(14,1.3),(16,2.1),(18,2.6),(20,1.5),(22,2.3),(24,1.2),(26,1.8),(28,1.1),(30,2.0),(32,1.3),(34,1.8),(36,1.1),(38,1.6),(40,1.9),(42,1.2),(44,1.7),(46,2.2),(48,1.4),(50,2.4),(52,1.6),(54,1.8),(56,1.1),(57,1.6),(58,2.2),(59,5.6),(60,4.2),(61,3.8),(62,4.4),(63,3.6),(64,3.9),(66,4.6),(68,3.7),(70,5.0),(72,4.2),(74,4.8),(76,5.5),(78,4.6),(80,3.8),(82,4.5),(84,4.0),(86,4.6),(88,4.0),(90,5.4),(92,4.6),(94,5.0),(96,4.0),(98,3.2),(99,2.6)]
CN13_RIGHT = [(0,1.2),(2,2.0),(4,1.5),(6,2.1),(8,1.6),(10,2.2),(12,1.4),(14,1.9),(16,1.5),(18,2.0),(20,1.3),(22,1.7),(24,1.2),(26,1.9),(28,1.5),(30,1.2),(32,1.8),(34,1.3),(36,1.0),(38,1.6),(40,1.2),(42,0.8),(44,1.5),(46,1.1),(48,1.4),(49,1.0),(50,5.2),(51,4.8),(52,4.0),(53,4.6),(54,3.8),(55,4.4),(56,3.9),(57,4.3),(58,4.7),(59,3.9),(60,4.0),(62,3.6),(64,4.3),(66,4.6),(68,5.3),(70,4.5),(72,5.0),(74,6.0),(76,5.2),(78,4.4),(80,5.2),(82,4.6),(84,5.0),(86,3.1),(88,4.0),(90,4.6),(92,4.3),(94,5.0),(96,4.4),(98,3.8)]
CN14_LEFT = [(0,1.9),(1,2.6),(3,1.5),(5,2.2),(7,1.4),(9,2.0),(11,1.6),(13,2.3),(15,1.7),(17,2.0),(19,1.5),(21,2.2),(23,1.4),(24,0.65),(26,1.8),(28,1.2),(30,2.0),(32,2.6),(34,2.3),(36,1.6),(38,2.1),(40,1.3),(42,1.9),(44,1.2),(46,1.8),(47,3.5),(48,6.9),(49,5.0),(50,6.0),(51,5.4),(52,4.8),(54,5.6),(55,4.5),(56,5.7),(57,5.0),(58,6.0),(59,7.45),(60,5.5),(61,4.6),(62,5.2),(64,4.4),(65,3.7),(66,4.6),(68,5.2),(70,4.4),(72,5.4),(74,5.9),(76,5.0),(77,6.0),(78,4.8),(80,4.5),(82,5.2),(84,4.3),(86,3.9),(88,4.5),(90,3.6),(92,4.2),(94,3.4),(96,4.0),(98,2.7),(100,2.2)]
CN14_RIGHT = [(0,1.4),(2,2.2),(4,1.7),(6,2.4),(8,1.5),(10,2.1),(12,1.6),(14,2.4),(15,2.95),(16,1.8),(18,2.3),(20,1.6),(22,2.0),(24,1.5),(26,2.2),(28,1.4),(30,1.8),(32,1.2),(34,1.9),(36,1.4),(38,2.1),(40,1.5),(42,1.1),(44,1.8),(46,1.3),(48,1.6),(50,0.8),(52,0.65),(54,2.5),(56,3.0),(58,5.0),(60,5.6),(62,4.8),(64,5.4),(66,6.7),(67,5.2),(68,4.6),(70,5.5),(72,5.0),(74,5.8),(76,5.1),(78,5.6),(80,4.7),(82,5.5),(84,5.0),(86,6.4),(87,5.5),(88,6.0),(90,5.5),(92,4.6),(94,5.0),(96,4.0),(98,3.0)]
CN15_LEFT = [(0,1.3),(1,2.2),(3,1.5),(5,2.4),(7,1.7),(9,2.5),(11,1.8),(13,2.6),(15,2.0),(17,2.9),(18,3.5),(19,2.0),(21,1.6),(23,2.5),(25,1.7),(27,2.2),(29,1.4),(31,2.0),(33,1.2),(35,1.7),(37,1.1),(39,2.3),(41,1.5),(43,1.9),(45,1.2),(47,1.7),(49,1.0),(50,0.4),(51,1.5),(52,3.0),(53,2.6),(54,3.8),(56,4.3),(58,3.6),(60,4.6),(62,4.0),(64,4.8),(66,4.3),(68,3.7),(70,4.5),(72,5.0),(74,4.4),(76,4.8),(78,3.3),(79,2.25),(80,3.6),(82,4.6),(84,5.2),(85,5.8),(86,5.0),(88,4.3),(89,5.5),(90,4.5),(92,3.6),(94,4.0),(96,3.2),(98,2.3)]
CN15_RIGHT = [(0,1.2),(2,1.8),(4,2.4),(6,5.35),(7,3.0),(8,1.8),(10,2.6),(12,1.6),(14,2.9),(16,2.2),(18,2.6),(20,1.7),(22,2.5),(24,1.9),(26,2.8),(28,1.5),(30,2.2),(32,1.6),(34,2.3),(36,1.9),(38,2.7),(40,1.8),(42,2.5),(44,1.6),(46,2.2),(48,1.9),(50,2.8),(51,2.0),(52,4.5),(54,5.2),(56,4.8),(58,5.4),(60,4.6),(62,5.0),(64,5.8),(66,5.2),(68,6.0),(70,5.4),(72,5.9),(74,6.6),(76,5.6),(77,6.6),(78,5.3),(80,6.2),(82,5.5),(84,6.5),(85,6.75),(86,5.6),(88,4.6),(90,6.3),(91,4.2),(92,5.5),(94,4.5),(96,3.5),(98,2.4)]
CN16_LEFT = [(0,0.9),(2,1.6),(4,1.2),(6,1.9),(8,1.3),(10,1.8),(12,1.1),(14,1.7),(16,1.2),(18,2.1),(20,1.4),(22,2.65),(24,1.7),(26,1.2),(28,2.2),(30,1.5),(32,0.8),(34,1.4),(36,2.0),(38,1.3),(40,2.4),(42,2.6),(44,1.5),(46,1.8),(48,1.5),(49,2.0),(50,2.4),(51,1.2),(52,0.6),(53,1.5),(54,2.3),(55,1.4),(56,3.35),(57,1.1),(58,2.5),(60,4.6),(62,5.3),(64,4.2),(66,3.5),(68,4.6),(70,3.3),(71,2.4),(72,3.8),(74,4.7),(76,5.6),(78,4.8),(80,5.4),(82,4.4),(84,5.2),(86,4.6),(88,5.3),(90,4.5),(92,5.8),(93,6.0),(94,4.8),(95,3.5),(96,2.4),(97,4.4),(98,2.8),(99,1.5)]
CN16_RIGHT = [(0,2.1),(2,1.4),(4,2.2),(6,1.6),(8,2.4),(10,1.7),(12,2.0),(14,1.3),(16,1.8),(18,1.2),(20,1.7),(22,1.4),(24,2.0),(26,1.3),(28,1.8),(30,1.2),(32,2.2),(34,1.5),(36,2.0),(38,1.2),(40,2.1),(42,1.6),(44,1.9),(46,1.4),(48,1.8),(50,4.3),(52,5.0),(54,5.4),(56,4.8),(58,6.45),(60,5.0),(62,5.8),(64,4.6),(66,5.5),(68,6.4),(70,7.0),(71,5.8),(72,4.6),(74,3.8),(76,5.2),(78,4.2),(80,5.5),(82,3.5),(84,4.3),(86,1.7),(87,5.0),(88,4.4),(90,6.5),(91,4.8),(92,5.5),(94,4.6),(96,3.8),(98,3.0)]
CN17_LEFT = [(0,2.2),(1,0.9),(3,1.6),(5,1.0),(7,1.8),(9,0.7),(11,1.4),(13,3.25),(15,1.3),(17,0.7),(19,1.6),(21,1.1),(23,2.0),(25,1.3),(27,2.3),(29,1.4),(31,0.9),(33,1.7),(35,1.2),(37,1.8),(39,1.2),(41,0.8),(43,1.6),(45,2.1),(47,1.3),(49,2.3),(51,1.2),(53,1.8),(55,1.1),(56,2.0),(57,4.1),(58,3.0),(60,4.2),(62,3.3),(64,3.9),(66,2.8),(68,3.8),(70,3.1),(72,4.3),(74,3.5),(76,4.2),(78,3.2),(80,4.0),(82,5.6),(83,4.5),(84,3.5),(86,5.0),(88,4.0),(90,4.8),(92,3.6),(94,4.2),(96,3.4),(98,4.5),(100,3.0)]
CN17_RIGHT = [(0,1.6),(2,2.3),(4,1.4),(6,2.0),(8,1.6),(10,2.2),(12,1.8),(14,2.4),(16,3.55),(18,2.0),(20,1.5),(22,2.3),(24,1.7),(26,2.1),(28,1.4),(30,2.0),(32,1.5),(34,1.8),(36,1.2),(38,1.6),(40,1.1),(42,1.5),(44,1.0),(46,1.7),(48,1.3),(50,1.9),(52,1.4),(54,2.0),(56,3.0),(58,3.8),(60,2.5),(62,4.0),(64,5.1),(66,3.8),(68,4.4),(70,3.6),(72,4.5),(74,5.75),(76,4.2),(78,4.8),(80,3.9),(82,4.5),(84,3.6),(86,4.2),(88,5.0),(90,4.2),(92,3.8),(94,4.4),(96,3.5),(98,3.2)]
CN18_LEFT = [(0,2.8),(1,1.3),(3,2.0),(5,0.9),(7,1.8),(9,1.2),(11,1.9),(13,0.5),(14,0.2),(15,1.4),(17,0.8),(19,1.8),(21,1.1),(23,2.0),(25,1.5),(27,3.0),(28,4.6),(30,5.2),(32,4.6),(34,5.5),(35,6.4),(36,5.0),(38,5.6),(40,4.8),(42,5.8),(44,5.0),(46,5.6),(48,4.5),(50,5.6),(52,4.2),(54,5.0),(56,6.2),(57.6,7.0),(59,6.0),(60,6.4),(62,5.3),(64,5.8),(66,4.8),(68,5.2),(70,4.2),(71,4.8),(72,3.6),(74,2.5),(76,4.4),(78,4.8),(80,3.6),(82,4.2),(84,3.3),(86,4.0),(88,3.5),(90,4.2),(92,3.4),(94,3.8),(96,2.8),(98,1.4)]
CN18_RIGHT = [(0,2.4),(2,1.5),(4,2.2),(6,1.6),(8,2.0),(10,1.3),(12,1.8),(14,1.0),(16,1.4),(18,2.3),(20,1.6),(22,2.5),(24,3.3),(26,4.8),(28,5.3),(30,5.8),(32,5.0),(34,6.2),(36,5.2),(38,5.8),(40,5.0),(42,6.0),(44,5.4),(46,6.0),(48,5.5),(50,6.2),(52,6.6),(54,6.0),(56,6.8),(58,6.3),(60,6.0),(62,5.2),(64,6.6),(66,4.6),(68,5.0),(70,4.0),(72,6.5),(74,4.2),(76,4.8),(78,3.6),(80,4.5),(82,3.9),(84,5.8),(86,3.6),(88,4.2),(90,3.3),(92,4.0),(94,5.3),(96,2.5),(98,1.8)]
CN19_LEFT = [(0,2.5),(2,1.3),(4,0.6),(6,1.6),(8,1.0),(10,2.0),(11,2.3),(13,1.2),(15,1.8),(17,0.9),(19,2.0),(21,1.3),(23,2.2),(24,2.35),(26,1.1),(28,1.9),(30,1.2),(32,1.7),(34,2.7),(36,1.5),(38,0.9),(40,1.8),(42,1.1),(44,2.2),(46,1.4),(48,0.8),(50,1.7),(52,3.2),(54,4.5),(55,3.2),(56,2.2),(57,3.9),(58,4.5),(60,3.8),(62,5.0),(64,4.5),(66,5.7),(68,4.8),(70,5.3),(72,4.6),(74,5.1),(76,4.4),(78,5.0),(80,4.2),(82,5.5),(84,4.8),(86,4.3),(88,3.4),(90,4.0),(92,3.2),(93,2.2),(94,3.7),(96,3.0),(98,1.8)]
CN19_RIGHT = [(0,1.0),(1,0.4),(3,2.5),(5,1.6),(7,2.0),(9,1.2),(11,1.8),(13,1.4),(15,2.0),(17,1.3),(19,1.6),(21,1.9),(23,1.4),(25,2.6),(27,1.5),(29,2.0),(31,1.4),(33,1.8),(35,1.3),(37,1.7),(39,1.2),(41,1.6),(43,1.0),(45,1.5),(47,1.2),(49,0.8),(51,1.6),(53,0.5),(55,2.5),(57,3.5),(59,4.8),(61,4.2),(63,5.0),(65,4.5),(67,5.3),(69,4.8),(71,5.5),(73,5.0),(75,4.6),(77,5.2),(79,4.6),(81,5.6),(83,5.0),(85,4.6),(87,5.2),(88,5.9),(89,5.0),(91,4.4),(93,3.3),(95,2.4)]
CN20_LEFT = [(0,2.2),(1,1.8),(3,1.2),(4,0.8),(5,1.0),(6,1.4),(8,2.2),(10,1.5),(12,1.8),(14,1.3),(16,1.7),(18,1.2),(20,1.6),(22,1.3),(24,1.9),(26,1.4),(28,1.6),(30,1.2),(32,1.7),(34,1.3),(36,1.8),(38,1.1),(40,1.6),(42,1.2),(44,1.7),(46,1.3),(48,1.0),(49,1.5),(50,2.2),(51,3.0),(52,4.2),(54,3.4),(56,4.5),(58,3.6),(60,5.2),(62,4.4),(64,5.0),(66,4.2),(68,5.1),(70,4.4),(72,4.8),(74,5.2),(76,4.6),(78,5.4),(80,4.6),(81,6.15),(82,5.0),(84,4.3),(86,5.2),(88,5.7),(89,5.0),(90,5.5),(92,4.2),(94,4.8),(96,3.6),(97,2.4),(98,3.2),(99,2.5)]
CN20_RIGHT = [(0,2.0),(2,1.6),(4,1.3),(6,1.9),(8,1.5),(10,2.0),(12,1.4),(14,1.9),(16,1.6),(18,2.0),(20,1.5),(22,1.8),(24,1.4),(26,1.9),(28,1.5),(30,1.8),(32,1.4),(34,1.7),(36,1.3),(38,1.8),(40,1.4),(42,1.6),(44,1.1),(46,1.5),(48,1.3),(50,3.0),(52,4.3),(54,3.6),(56,2.6),(58,4.0),(60,3.2),(62,4.6),(64,3.6),(66,4.3),(68,3.3),(70,4.0),(72,3.2),(74,3.8),(76,3.0),(78,4.2),(80,3.5),(82,4.0),(84,3.4),(86,4.5),(88,4.0),(90,3.6),(92,4.4),(94,3.2),(96,2.8),(98,2.2)]

# significance brackets: panel, x start, x end, bracket level, tick end, star x, star y
BRACKETS = [("CN02", 54.2, 86.7, 6.90, 6.69, 72.0, 7.50),
            ("CN15", 14.8, 36.5, 3.20, 2.86, 26.0, 3.58),
            ("CN19", 14.8, 36.9, 2.89, 2.76, 27.3, 3.54)]

TITLE_Y = {"CN07": 7.73, "CN13": 7.63, "CN17": 7.33}
TITLE_Y_DEFAULT = 7.93
TITLE_X = 5.0
X_END = {"CN02": 116.4, "CN12": 110.0}
X_END_DEFAULT = 106.0
X_START = -2.0
Y_RANGE = (-0.58, 9.25)

X_LABEL = "Time in life （%）"
Y_LABEL = "Sr/Ca× 1000"
LEGEND_LINE_LABELS = ["Left sagittal otolith", "Right sagittal otolith"]
LEGEND_RING_LABELS = ["Annual rings of the left otolith", "Annual rings of the right otolith"]

BLUE_LINE = "#1414ff"
RED_LINE = "#ff3a3a"
BLUE_HATCH = "#3d9fea"
GREEN_HATCH = "#20a653"
TRI_BLUE = "#0000ff"
TRI_RED = "#ff0000"
HATCH_STEP = 7.0     # px between hatch lines (horizontal)
HATCH_WIDTH = 2.3    # px

# layout (pixels)
FW, FH = 676, 452
LB, RB, TB, BB = 50, 6, 18, 50
PANEL_H = TB + FH + BB
COL_GAPS = [31, 14, 42, 35]
ROW_GAPS = [1, 52, 36]
YLAB_W = 152
PAGE_W = 3946
BOTTOM_H = 479

PANEL_DATA = {}
for _n in PANELS:
    PANEL_DATA[_n] = (globals()[_n + "_BARS"], globals()[_n + "_RING_L"], globals()[_n + "_RING_R"],
                      globals()[_n + "_LEFT"], globals()[_n + "_RIGHT"])


def hatch_lines(l, r, top, pattern, sx, sy):
    """45-degree hatch lines clipped to a bar; '/' anchored on its right edge, '\\' on its left edge."""
    W = (r - l) * sx
    H = top * sy
    xs0, ys0, xs1, ys1 = [], [], [], []
    k = 0.0
    while k <= W + H:
        if pattern == "/":
            u0 = max(0.0, W - k)
            u1 = min(W, W - k + H)
            if u1 > u0:
                xs0.append(l + u0 / sx); ys0.append((u0 - W + k) / sy)
                xs1.append(l + u1 / sx); ys1.append((u1 - W + k) / sy)
        else:
            u0 = max(0.0, k - H)
            u1 = min(W, k)
            if u1 > u0:
                xs0.append(l + u0 / sx); ys0.append((k - u0) / sy)
                xs1.append(l + u1 / sx); ys1.append((k - u1) / sy)
        k += HATCH_STEP
    return xs0, ys0, xs1, ys1


def style_axes(p):
    p.xaxis.ticker = FixedTicker(ticks=X_TICKS)
    p.xaxis.major_label_overrides = {t: f"{t}%" for t in X_TICKS}
    p.yaxis.ticker = FixedTicker(ticks=Y_TICKS)
    for ax in (p.xaxis, p.yaxis):
        ax.axis_line_color = None
        ax.major_tick_line_color = None
        ax.minor_tick_line_color = None
        ax.major_tick_out = 0
        ax.major_tick_in = 0
        ax.minor_tick_out = 0
        ax.major_label_text_font = FONT
        ax.major_label_text_color = "black"
    p.xaxis.major_label_text_font_size = "38px"
    p.yaxis.major_label_text_font_size = "37px"
    p.xaxis.major_label_standoff = 2
    p.yaxis.major_label_standoff = 24
    p.grid.visible = False
    p.outline_line_color = None


def make_panel(name):
    bars, ring_l, ring_r, left, right = PANEL_DATA[name]
    x_end = X_END.get(name, X_END_DEFAULT)
    p = figure(frame_width=FW, frame_height=FH,
               x_range=(X_START, x_end), y_range=Y_RANGE,
               min_border_left=LB, min_border_right=RB, min_border_top=TB, min_border_bottom=BB,
               output_backend="svg", toolbar_location=None)
    style_axes(p)
    sx = FW / (x_end - X_START)
    sy = FH / (Y_RANGE[1] - Y_RANGE[0])

    for lv in REF_LEVELS:
        p.line(REF_SPAN, [lv, lv], line_color="#a9a9a9", line_width=3, line_dash="3 3")

    src = ColumnDataSource(dict(left=[b[0] for b in bars], right=[b[1] for b in bars],
                                top=[b[2] for b in bars], bottom=[0.0] * len(bars)))
    p.quad(left="left", right="right", top="top", bottom="bottom", source=src,
           fill_color="white", line_color=None)

    g_count = 0
    for color in (BLUE_HATCH, GREEN_HATCH):
        hx0, hy0, hx1, hy1 = [], [], [], []
        for b in bars:
            if b[4] == "g":
                if color != GREEN_HATCH:
                    continue
                pat = "/" if g_count % 2 == 0 else "\\"
                g_count += 1
            else:
                if color != BLUE_HATCH:
                    continue
                pat = "\\"
            a, bb_, c, d = hatch_lines(b[0], b[1], b[2], pat, sx, sy)
            hx0 += a; hy0 += bb_; hx1 += c; hy1 += d
        if hx0:
            p.segment(x0=hx0, y0=hy0, x1=hx1, y1=hy1, line_color=color, line_width=HATCH_WIDTH)

    p.quad(left="left", right="right", top="top", bottom="bottom", source=src,
           fill_color=None, line_color="#3c3c3c", line_width=2)

    rx = [q[0] for q in right]; ry = [q[1] for q in right]
    lx = [q[0] for q in left]; ly = [q[1] for q in left]
    p.line(rx, ry, line_color=RED_LINE, line_width=2.2, line_dash="6 4", line_alpha=0.9)
    p.line(lx, ly, line_color=BLUE_LINE, line_width=2.6)

    wb = [b for b in bars if b[3] > b[2] + 1e-6]
    wsrc = ColumnDataSource(dict(x=[(b[0] + b[1]) / 2 for b in wb], lower=[b[2] for b in wb],
                                 upper=[b[3] for b in wb]))
    p.add_layout(Whisker(source=wsrc, base="x", lower="lower", upper="upper", dimension="height",
                         line_color="black", line_width=2.5,
                         upper_head=TeeHead(size=11, line_color="black", line_width=2.5),
                         lower_head=None))

    # axis lines and small ticks
    p.segment(x0=[-1.5], y0=[0], x1=[101.5], y1=[0], line_color="#444444", line_width=3)
    p.segment(x0=X_TICKS[1:], y0=[0] * 5, x1=X_TICKS[1:], y1=[-0.15] * 5, line_color="#444444", line_width=2)
    p.segment(x0=[0], y0=[-0.25], x1=[0], y1=[9.05], line_color="#333333", line_width=2)
    p.segment(x0=[-1.5] * 3, y0=Y_TICKS[1:], x1=[0] * 3, y1=Y_TICKS[1:], line_color="#555555", line_width=2)

    p.scatter(x=ring_l, y=[-0.33] * len(ring_l), marker="triangle", size=26, fill_color=TRI_BLUE, line_color=None)
    p.scatter(x=ring_r, y=[-0.33] * len(ring_r), marker="triangle", size=26, fill_color=TRI_RED, line_color=None)

    p.text(x=[TITLE_X], y=[TITLE_Y.get(name, TITLE_Y_DEFAULT)], text=[name],
           text_font=value(FONT), text_font_size=value("69px"), text_baseline="alphabetic",
           text_align="left", text_color="black")

    for (bn, x0, x1, yb, yt, stx, sty) in BRACKETS:
        if bn == name:
            p.line([x0, x0, x1, x1], [yt, yb, yb, yt], line_color="black", line_width=3.5)
            p.text(x=[stx], y=[sty], text=["*"], text_font=value(FONT), text_font_size=value("50px"),
                   text_align="center", text_baseline="middle", text_color="black")
    return p


panels = [make_panel(n) for n in PANELS]
rows = []
for r in range(4):
    kids = []
    for c in range(5):
        kids.append(panels[r * 5 + c])
        if c < 4:
            kids.append(Spacer(width=COL_GAPS[c], height=PANEL_H))
    rows.append(row(*kids, spacing=0))
grid_kids = []
for r in range(4):
    grid_kids.append(rows[r])
    if r < 3:
        grid_kids.append(Spacer(width=10, height=ROW_GAPS[r]))
grid = column(*grid_kids, spacing=0)
GRID_H = 4 * PANEL_H + sum(ROW_GAPS)


def blank(w, h):
    f = figure(width=w, height=h, x_range=(0, w), y_range=(0, h), output_backend="svg",
               toolbar_location=None, min_border=0)
    f.axis.visible = False
    f.grid.visible = False
    f.outline_line_color = None
    return f


ylab = blank(YLAB_W, GRID_H)
ylab.text(x=[66], y=[GRID_H - 1182], text=[Y_LABEL], angle=np.pi / 2, text_font=value(FONT),
          text_font_size=value("98px"), text_align="center", text_baseline="middle", text_color="black")

bottom = blank(PAGE_W, BOTTOM_H)
bottom.text(x=[2100], y=[385], text=[X_LABEL], text_font=value(FONT), text_font_size=value("90px"),
            text_align="center", text_baseline="middle", text_color="black")
# legend
bottom.line([1290, 1586], [203, 203], line_color=BLUE_LINE, line_width=4, line_alpha=0.6)
bottom.line([2211, 2511], [203, 203], line_color=RED_LINE, line_width=4, line_alpha=0.6)
bottom.text(x=[1599, 2524], y=[206, 206], text=LEGEND_LINE_LABELS, text_font=value(FONT),
            text_font_size=value("67px"), text_align="left", text_baseline="alphabetic", text_color="black")
bottom.scatter(x=[1307], y=[64], marker="triangle", size=78, fill_color=TRI_BLUE, line_color=None)
bottom.scatter(x=[2274], y=[64], marker="triangle", size=78, fill_color=TRI_RED, line_color=None)
bottom.text(x=[1363, 2326], y=[58, 58], text=LEGEND_RING_LABELS, text_font=value(FONT),
            text_font_size=value("67px"), text_align="left", text_baseline="alphabetic", text_color="black")

page = column(row(ylab, grid, spacing=0), bottom, spacing=0)

open("out.html", "w").write(file_html(page, INLINE))
